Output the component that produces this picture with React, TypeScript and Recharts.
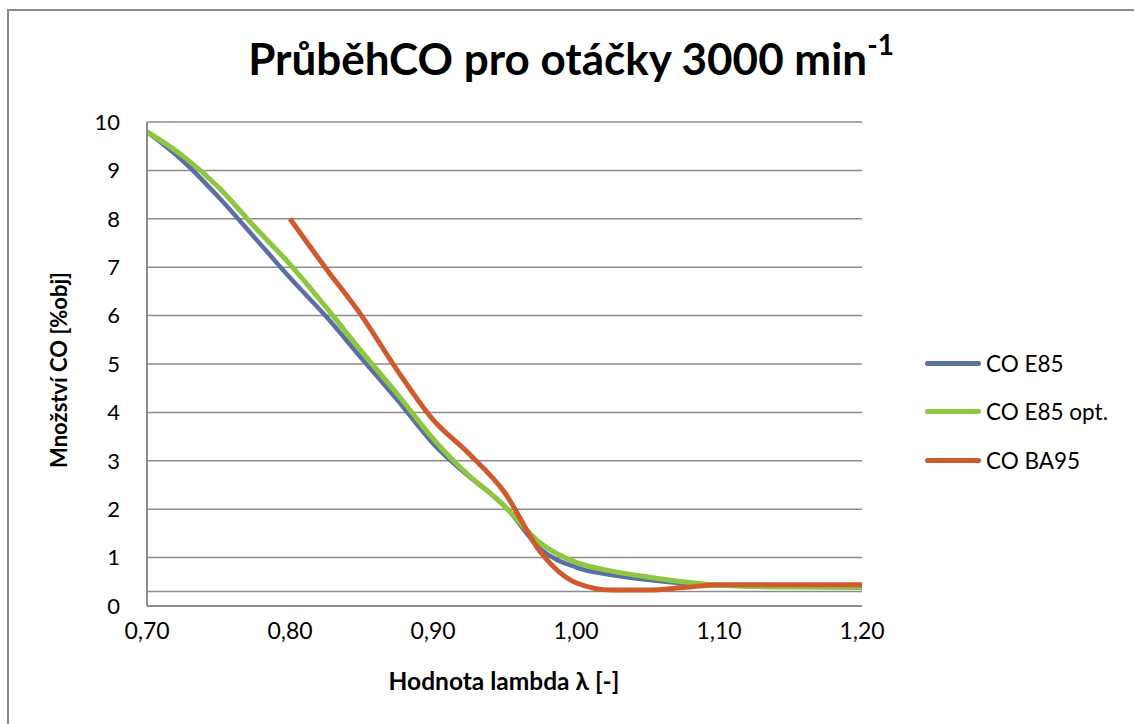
import { LineChart, Line, XAxis, YAxis, CartesianGrid, ReferenceLine } from "recharts";

const lambdaE85 = [0.7, 0.725, 0.75, 0.775, 0.8, 0.825, 0.85, 0.875, 0.9, 0.925, 0.94, 0.95, 0.975, 1.0, 1.025, 1.05, 1.075, 1.1, 1.15, 1.2];
const coE85 = [9.8, 9.2, 8.45, 7.62, 6.78, 5.99, 5.12, 4.26, 3.36, 2.68, 2.33, 2.07, 1.18, 0.8, 0.64, 0.54, 0.47, 0.43, 0.4, 0.38];
const coE85opt = [9.8, 9.3, 8.65, 7.84, 7.06, 6.18, 5.26, 4.38, 3.46, 2.7, 2.33, 2.06, 1.3, 0.9, 0.72, 0.6, 0.5, 0.43, 0.39, 0.39];

const lambdaBA95 = [0.8, 0.825, 0.85, 0.875, 0.9, 0.925, 0.95, 0.975, 1.0, 1.025, 1.05, 1.075, 1.1, 1.15, 1.2];
const coBA95 = [8.0, 6.98, 6.0, 4.87, 3.85, 3.15, 2.35, 1.12, 0.48, 0.33, 0.33, 0.38, 0.44, 0.44, 0.44];

const xTicks = [0.7, 0.8, 0.9, 1.0, 1.1, 1.2];
const yTicks = [0, 1, 2, 3, 4, 5, 6, 7, 8, 9, 10];

const seriesNames = ["CO E85", "CO E85 opt.", "CO BA95"];
const colors = ["#5b6fa2", "#8dc73f", "#d1592e"];

const font = "Lato, 'Open Sans', sans-serif";

const e85Data = lambdaE85.map((x, i) => ({ x, y: coE85[i] }));
const e85optData = lambdaE85.map((x, i) => ({ x, y: coE85opt[i] }));
const ba95Data = lambdaBA95.map((x, i) => ({ x, y: coBA95[i] }));

// legend drawn as html next to the plot, recharts' Legend would eat plot width
const LegendBox = () => (
  <div style={{ position: "absolute", left: 925, top: 339, fontFamily: font, fontSize: 22.5, color: "#000" }}>
    {seriesNames.map((name, i) => (
      <div key={name} style={{ display: "flex", alignItems: "center", height: 48.5 }}>
        <div style={{ width: 56, height: 5, borderRadius: 3, background: colors[i], marginRight: 5 }} />
        <span>{name}</span>
      </div>
    ))}
  </div>
);

export default function App() {
  return (
    <div style={{ position: "absolute", left: 0, top: 0, width: 1134, height: 724, overflow: "hidden", background: "#fff" }}>
      <div style={{
        position: "absolute",
        left: 7,
        top: 9,
        width: 1160,
        height: 740,
        border: "2px solid #8a8a8a",
      }} />

      <div style={{
        position: "absolute",
        left: 0,
        top: 36,
        width: 1142,
        textAlign: "center",
        fontFamily: font,
        fontWeight: 700,
        fontSize: 44,
        lineHeight: 1,
        color: "#000",
      }}>
        PrůběhCO pro otáčky 3000 min<sup style={{ fontSize: 28, verticalAlign: "top", position: "relative", top: -6 }}>-1</sup>
      </div>

      <div style={{
        position: "absolute",
        left: 58,
        top: 370,
        transform: "translate(-50%, -50%) rotate(-90deg)",
        whiteSpace: "nowrap",
        fontFamily: font,
        fontWeight: 700,
        fontSize: 22,
        color: "#000",
      }}>
        Množství CO [%obj]
      </div>

      <div style={{
        position: "absolute",
        left: 0,
        top: 669,
        width: 1008,
        textAlign: "center",
        fontFamily: font,
        fontWeight: 700,
        fontSize: 24.5,
        lineHeight: 1,
        color: "#000",
      }}>
        Hodnota lambda λ [-]
      </div>

      <LegendBox />

      <div style={{ position: "absolute", left: 0, top: 0 }}>
        <LineChart
          width={1134}
          height={724}
          margin={{ top: 122, right: 272, bottom: 78, left: 87 }}
        >
          <CartesianGrid vertical={false} stroke="#8c8c8c" strokeWidth={1.5} />
          <ReferenceLine y={0.3} stroke="#8c8c8c" strokeWidth={1.5} />
          <XAxis
            dataKey="x"
            type="number"
            domain={[0.7, 1.2]}
            ticks={xTicks}
            allowDataOverflow
            tickFormatter={(v: number) => v.toFixed(2).replace(".", ",")}
            tickLine={false}
            tickSize={0}
            tickMargin={17}
            axisLine={{ stroke: "#8c8c8c", strokeWidth: 2 }}
            height={40}
            tick={{ fill: "#000", fontSize: 23, fontFamily: font }}
          />
          <YAxis
            type="number"
            domain={[0, 10]}
            ticks={yTicks}
            interval={0}
            tickLine={false}
            tickSize={0}
            tickMargin={27}
            axisLine={{ stroke: "#8c8c8c", strokeWidth: 2 }}
            width={60}
            tick={{ fill: "#000", fontSize: 22, fontFamily: font }}
          />
          <Line data={e85Data} dataKey="y" name={seriesNames[0]} type="monotone" stroke={colors[0]} strokeWidth={4.5} dot={false} isAnimationActive={false} />
          <Line data={e85optData} dataKey="y" name={seriesNames[1]} type="monotone" stroke={colors[1]} strokeWidth={5} dot={false} isAnimationActive={false} />
          <Line data={ba95Data} dataKey="y" name={seriesNames[2]} type="monotone" stroke={colors[2]} strokeWidth={5} dot={false} isAnimationActive={false} />
        </LineChart>
      </div>
    </div>
  );
}
